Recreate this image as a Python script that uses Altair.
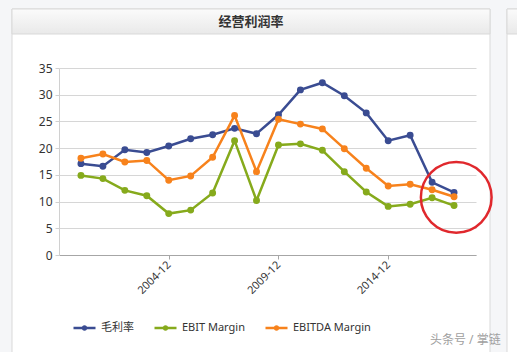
import altair as alt
import pandas as pd

# ---- data ----
years = list(range(2000, 2018))
series_names = ["毛利率", "EBIT Margin", "EBITDA Margin"]
gross_margin = [17.1, 16.6, 19.7, 19.2, 20.4, 21.75, 22.5, 23.7, 22.7, 26.25,
                30.9, 32.25, 29.8, 26.6, 21.4, 22.4, 13.6, 11.7]
ebit_margin = [14.9, 14.3, 12.1, 11.1, 7.75, 8.4, 11.6, 21.4, 10.2, 20.6,
               20.8, 19.6, 15.6, 11.8, 9.1, 9.5, 10.7, 9.25]
ebitda_margin = [18.1, 18.9, 17.4, 17.7, 14.0, 14.8, 18.3, 26.1, 15.6, 25.4,
                 24.5, 23.6, 19.9, 16.25, 12.9, 13.25, 12.2, 10.9]
x_tick_years = [2004, 2009, 2014]
y_ticks = [0, 5, 10, 15, 20, 25, 30, 35]
highlight_year = [2017.1]
highlight_value = [10.8]
title_text = "经营利润率"
watermark_text = "头条号 / 掌链"

colors = ["#3a4c92", "#86aa1c", "#f7821c"]
FONT = "Noto Sans, Noto Sans CJK SC"

rows = []
for name, vals in zip(series_names, [gross_margin, ebit_margin, ebitda_margin]):
    for y, v in zip(years, vals):
        rows.append({"year": y, "value": v, "series": name})
df = pd.DataFrame(rows)

xscale = alt.Scale(domain=[years[0] - 1, years[-1] + 1], nice=False, zero=False)
yscale = alt.Scale(domain=[0, 35], nice=False)
cscale = alt.Scale(domain=series_names, range=colors)

legend_path = ("M-1,0L1,0M-0.14,0A0.14,0.14,0,1,0,0.14,0"
               "A0.14,0.14,0,1,0,-0.14,0")

x_axis = alt.Axis(values=x_tick_years, grid=False,
                  labelExpr="toString(datum.value) + '-12'",
                  labelAngle=315, labelAlign="right",
                  labelBaseline="middle", labelFontSize=11,
                  labelColor="#333333", labelFont=FONT,
                  labelPadding=4, labelOverlap=False,
                  domainColor="#a6a6a6", tickColor="#a6a6a6",
                  tickSize=4)
y_axis = alt.Axis(values=y_ticks, tickCount=8, gridColor="#d6d6d6",
                  domainColor="#d0d0d0", tickColor="#d0d0d0",
                  tickSize=4, labelFontSize=12,
                  labelColor="#333333", labelFont=FONT,
                  labelPadding=3, labelOverlap=False,
                  labelBound=False, labelFlush=False)


def xe():
    return alt.X("year:Q", scale=xscale, title=None, axis=x_axis)


def ye():
    return alt.Y("value:Q", scale=yscale, title=None, axis=y_axis)


lines = alt.Chart(df).mark_line(strokeWidth=2.5).encode(
    x=xe(), y=ye(),
    color=alt.Color("series:N", scale=cscale, sort=series_names,
                    legend=alt.Legend(title=None, orient="none",
                                      direction="horizontal",
                                      legendX=13, legendY=247,
                                      symbolType=legend_path,
                                      symbolSize=484,
                                      symbolStrokeWidth=2.5,
                                      labelFontSize=11, labelFont=FONT,
                                      labelColor="#333333",
                                      labelOffset=4, columnPadding=15)),
)
points = alt.Chart(df).mark_circle(size=48, opacity=1).encode(
    x=xe(), y=ye(),
    color=alt.Color("series:N", scale=cscale, legend=None),
)

hl = pd.DataFrame({"year": highlight_year, "value": highlight_value})
circle = alt.Chart(hl).mark_point(shape="circle", size=5000, filled=False,
                                  stroke="#e0282d", strokeWidth=2.5,
                                  opacity=1).encode(x=xe(), y=ye())

one = alt.Data(values=[{}])
grey = "#f5f6f8"
border = "#d9d9d9"


def box(x1, x2, y1, y2, **kw):
    return alt.Chart(one).mark_rect(**kw).encode(
        x=alt.value(x1), x2=alt.value(x2), y=alt.value(y1), y2=alt.value(y2))


grad = alt.Gradient(gradient="linear", x1=0, x2=0, y1=0, y2=1,
                    stops=[alt.GradientStop(color="#fbfbfb", offset=0),
                           alt.GradientStop(color="#e9e9e9", offset=1)])

deco = [
    box(-59, -47, -68, 284, fill=grey),
    box(-59, 458, -68, -59, fill=grey),
    box(431, 448, -68, 284, fill=grey),
    box(-47, 431, -59, 300, fill=None, stroke=border, strokeWidth=1),
    box(-47, 431, -59, -34, fill=grad, stroke=border, strokeWidth=1),
    box(448, 470, -59, 300, fill=None, stroke=border, strokeWidth=1),
    box(448, 470, -59, -34, fill=grad, stroke=border, strokeWidth=1),
]
title = alt.Chart(one).mark_text(text=title_text, font=FONT, fontSize=13,
                                 fontWeight="bold", color="#333333").encode(
    x=alt.value(192), y=alt.value(-46))
wm = alt.Chart(one).mark_text(text=watermark_text, font=FONT, fontSize=12,
                              color="#a0a0a0", align="left").encode(
    x=alt.value(371), y=alt.value(272))

chart = alt.layer(*deco, title, lines, points, circle, wm).properties(
    width=417, height=187,
    autosize=alt.AutoSizeParams(type="none"),
    padding={"left": 59, "top": 68, "right": 41, "bottom": 97},
    background="#ffffff",
).configure_view(stroke=None)

chart.save("out.html", embed_options={"renderer": "svg", "actions": False})
